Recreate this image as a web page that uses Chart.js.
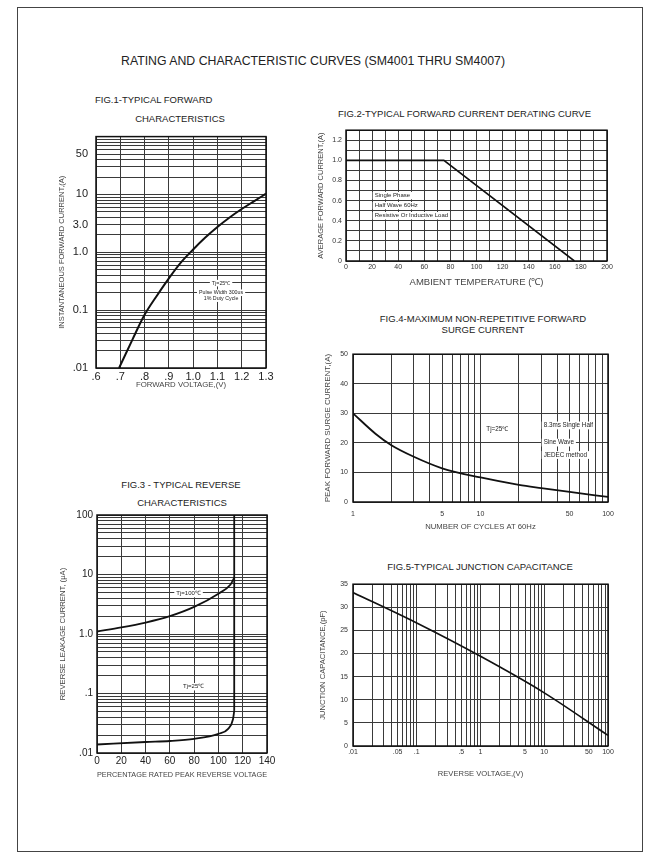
<!DOCTYPE html>
<html>
<head>
<meta charset="utf-8">
<title>SM4001 thru SM4007 rating and characteristic curves</title>
<script src="https://cdn.jsdelivr.net/npm/chart.js@4.4.1/dist/chart.umd.min.js"></script>
<style>
  html, body { margin: 0; padding: 0; background: #fff; }
  body { position: relative; width: 672px; height: 862px; overflow: hidden; font-family: 'Liberation Sans', Arial, sans-serif; color: #222; }
  .frame { position: absolute; left: 17px; top: 7px; width: 624px; height: 843px; border: 1.5px solid #444; }
  .txt { position: absolute; white-space: nowrap; line-height: 1; font-size: 9.5px; }
  .c { transform: translateX(-50%); }
  .box { position: absolute; }
</style>
</head>
<body>
<div class="frame"></div>
<div class="txt" style="left:121px;top:55px;font-size:12.3px">RATING AND CHARACTERISTIC CURVES (SM4001 THRU SM4007)</div>

<div class="txt" style="left:95px;top:95px">FIG.1-TYPICAL FORWARD</div>
<div class="txt c" style="left:180px;top:114px">CHARACTERISTICS</div>
<div class="txt" style="left:338px;top:108.5px">FIG.2-TYPICAL FORWARD CURRENT DERATING CURVE</div>
<div class="txt c" style="left:483px;top:313.5px">FIG.4-MAXIMUM NON-REPETITIVE FORWARD</div>
<div class="txt c" style="left:483px;top:324.5px">SURGE CURRENT</div>
<div class="txt c" style="left:181px;top:479.5px">FIG.3 - TYPICAL REVERSE</div>
<div class="txt c" style="left:182px;top:497.5px">CHARACTERISTICS</div>
<div class="txt c" style="left:480px;top:562px">FIG.5-TYPICAL JUNCTION CAPACITANCE</div>

<div class="box" style="left:50px;top:122px;width:230px;height:272px"><canvas id="fig1"></canvas></div>
<div class="box" style="left:310px;top:122px;width:311px;height:169px"><canvas id="fig2"></canvas></div>
<div class="box" style="left:316px;top:345px;width:306px;height:189px"><canvas id="fig4"></canvas></div>
<div class="box" style="left:50px;top:505px;width:231px;height:278px"><canvas id="fig3"></canvas></div>
<div class="box" style="left:312px;top:575px;width:310px;height:205px"><canvas id="fig5"></canvas></div>

<script>
// FIG.1 forward characteristics
const fwdVolt = [0.695, 0.75, 0.8, 0.85, 0.9, 0.95, 1.0, 1.05, 1.1, 1.15, 1.2, 1.25, 1.3];
const fwdAmps = [0.01, 0.031, 0.083, 0.176, 0.355, 0.67, 1.12, 1.8, 2.74, 4.0, 5.6, 7.6, 10.3];
const fig1XTickVals = [0.6, 0.7, 0.8, 0.9, 1.0, 1.1, 1.2, 1.3];
const fig1XTickText = ['.6', '.7', '.8', '.9', '1.0', '1.1', '1.2', '1.3'];
const fig1YTickVals = [0.01, 0.1, 1, 3, 10, 50];
const fig1YTickText = ['.01', '0.1', '1.0', '3.0', '10', '50'];

// FIG.2 derating curve
const ambientC = [0, 75, 175];
const avgAmps = [1.0, 1.0, 0];
const fig2XTickVals = [0, 20, 40, 60, 80, 100, 120, 140, 160, 180, 200];
const fig2XTickText = ['0', '20', '40', '60', '80', '100', '120', '140', '160', '180', '200'];
const fig2YTickVals = [0, 0.2, 0.4, 0.6, 0.8, 1.0, 1.2];
const fig2YTickText = ['0', '0.2', '0.4', '0.6', '0.8', '1.0', '1.2'];

// FIG.4 surge current
const cycles = [1, 1.5, 2, 3, 5, 10, 20, 30, 50, 100];
const surgeAmps = [30, 23.1, 19.2, 15.3, 11.4, 8.3, 5.8, 4.7, 3.4, 1.7];
const fig4XTickVals = [1, 5, 10, 50, 100];
const fig4XTickText = ['1', '5', '10', '50', '100'];
const fig4YTickVals = [0, 10, 20, 30, 40, 50];
const fig4YTickText = ['0', '10', '20', '30', '40', '50'];

// FIG.3 reverse characteristics
const pct100 = [0, 20, 40, 60, 80, 100, 110, 113];
const leak100 = [1.1, 1.29, 1.56, 2.0, 2.86, 4.76, 6.8, 8.8];
const pct25 = [0, 40, 60, 80, 100, 108, 112, 113];
const leak25 = [0.0139, 0.0153, 0.0159, 0.0173, 0.021, 0.0254, 0.037, 0.051];
const kneePct = [113, 113];
const kneeLeak = [0.051, 100];
const fig3XTickVals = [0, 20, 40, 60, 80, 100, 120, 140];
const fig3XTickText = ['0', '20', '40', '60', '80', '100', '120', '140'];
const fig3YTickVals = [0.01, 0.1, 1, 10, 100];
const fig3YTickText = ['.01', '.1', '1.0', '10', '100'];

// FIG.5 junction capacitance
const revVolt = [0.01, 0.1, 1, 10, 100];
const capPf = [33.2, 26.6, 19.4, 11.5, 2.3];
const fig5XTickVals = [0.01, 0.05, 0.1, 0.5, 1, 5, 10, 50, 100];
const fig5XTickText = ['.01', '.05', '.1', '.5', '1', '5', '10', '50', '100'];
const fig5YTickVals = [0, 5, 10, 15, 20, 25, 30, 35];
const fig5YTickText = ['0', '5', '10', '15', '20', '25', '30', '35'];

const FONT = "'Liberation Sans', Arial, sans-serif";
Chart.defaults.font.family = FONT;

function logGrid(lo, hi) {
  const out = [];
  for (let e = lo; e < hi; e++) {
    for (let m = 1; m < 10; m++) out.push(parseFloat((m * Math.pow(10, e)).toPrecision(6)));
  }
  out.push(Math.pow(10, hi));
  return out;
}
function stepGrid(lo, hi, step) {
  const out = [];
  for (let v = lo; v <= hi + step / 2; v += step) out.push(parseFloat(v.toFixed(6)));
  return out;
}
function labelAt(v, vals, text) {
  const i = vals.findIndex(t => Math.abs(t - v) <= Math.abs(t) * 1e-6 + 1e-9);
  return i < 0 ? '' : text[i];
}
function pts(xs, ys) { return xs.map((x, i) => ({ x: x, y: ys[i] })); }

function axis(o) {
  const left = o.pos === 'left';
  return {
    type: o.type, position: o.pos, min: o.min, max: o.max,
    afterBuildTicks: s => { s.ticks = o.grid.map(v => ({ value: v })); },
    afterFit: s => { if (left) s.width = o.size; else s.height = o.size; },
    grid: { color: '#3a3a3a', lineWidth: 1, drawTicks: false },
    border: { display: false },
    ticks: {
      autoSkip: false, maxRotation: 0, minRotation: 0, padding: o.tickPad,
      color: o.tickColor || '#222', font: { size: o.tickSize },
      callback: v => labelAt(v, o.vals, o.text)
    },
    title: {
      display: true, text: o.title, color: '#444', font: { size: o.titleSize },
      padding: left ? { top: o.titlePad, bottom: 0 } : { top: 0, bottom: o.titlePad }
    }
  };
}

// white-backed notes placed in data coordinates, plus the plot frame
function extras(notes, size) {
  return {
    id: 'extras',
    beforeDatasetsDraw(chart) {
      const ctx = chart.ctx, xs = chart.scales.x, ys = chart.scales.y;
      ctx.save();
      ctx.font = size + 'px ' + FONT;
      ctx.textBaseline = 'middle';
      ctx.textAlign = 'left';
      notes.forEach(n => {
        const w = ctx.measureText(n.text).width;
        const px = xs.getPixelForValue(n.x), py = ys.getPixelForValue(n.y);
        const l = n.align === 'center' ? px - w / 2 : px;
        ctx.fillStyle = '#fff';
        ctx.fillRect(l - 2, py - size * 0.62, w + 4, size * 1.24);
        ctx.fillStyle = '#222';
        ctx.fillText(n.text, l, py);
      });
      ctx.restore();
    },
    afterDatasetsDraw(chart) {
      const a = chart.chartArea, ctx = chart.ctx;
      ctx.save();
      ctx.strokeStyle = '#111';
      ctx.lineWidth = 1.5;
      ctx.strokeRect(a.left, a.top, a.right - a.left, a.bottom - a.top);
      ctx.restore();
    }
  };
}

function line(data, width, smooth) {
  return {
    data: data, borderColor: '#111', borderWidth: width, pointRadius: 0, fill: false,
    tension: 0, cubicInterpolationMode: smooth ? 'monotone' : 'default'
  };
}

function makeChart(id, datasets, xAxis, yAxis, notes, noteSize) {
  return new Chart(document.getElementById(id), {
    type: 'line',
    data: { datasets: datasets },
    options: {
      responsive: true, maintainAspectRatio: false, animation: false, events: [],
      layout: { padding: { top: 8, right: 14, left: 0, bottom: 0 } },
      plugins: { legend: { display: false }, tooltip: { enabled: false } },
      scales: { x: axis(xAxis), y: axis(yAxis) }
    },
    plugins: [extras(notes, noteSize)]
  });
}

makeChart('fig1',
  [line(pts(fwdVolt, fwdAmps), 2, true)],
  { type: 'linear', pos: 'bottom', min: 0.6, max: 1.3, grid: stepGrid(0.6, 1.3, 0.1), vals: fig1XTickVals, text: fig1XTickText,
    size: 26, tickPad: 2, tickSize: 11, title: 'FORWARD VOLTAGE,(V)', titleSize: 7.8, titlePad: 4.3 },
  { type: 'logarithmic', pos: 'left', min: 0.01, max: 100, grid: logGrid(-2, 2), vals: fig1YTickVals, text: fig1YTickText,
    size: 46, tickPad: 8, tickSize: 11, title: 'INSTANTANEOUS FORWARD CURRENT,(A)', titleSize: 7.5, titlePad: 7.5 },
  [{ x: 1.115, y: 0.293, text: 'Tj=25\u2103', align: 'center' },
   { x: 1.115, y: 0.2, text: 'Pulse Width 300us', align: 'center' },
   { x: 1.115, y: 0.158, text: '1% Duty Cycle', align: 'center' }], 5.3);

makeChart('fig2',
  [line(pts(ambientC, avgAmps), 1.6, false)],
  { type: 'linear', pos: 'bottom', min: 0, max: 200, grid: stepGrid(0, 200, 10), vals: fig2XTickVals, text: fig2XTickText,
    size: 30, tickPad: 2, tickSize: 7, tickColor: '#333', title: 'AMBIENT TEMPERATURE (\u2103)', titleSize: 9.5, titlePad: 2.6 },
  { type: 'linear', pos: 'left', min: 0, max: 1.3, grid: stepGrid(0, 1.3, 0.1), vals: fig2YTickVals, text: fig2YTickText,
    size: 36, tickPad: 4, tickSize: 7, tickColor: '#333', title: 'AVERAGE FORWARD CURRENT,(A)', titleSize: 7.5, titlePad: 6.5 },
  [{ x: 22, y: 0.65, text: 'Single Phase', align: 'left' },
   { x: 22, y: 0.55, text: 'Half Wave 60Hz', align: 'left' },
   { x: 22, y: 0.45, text: 'Resistive Or Inductive Load', align: 'left' }], 6);

makeChart('fig4',
  [line(pts(cycles, surgeAmps), 1.8, true)],
  { type: 'logarithmic', pos: 'bottom', min: 1, max: 100, grid: logGrid(0, 2), vals: fig4XTickVals, text: fig4XTickText,
    size: 32, tickPad: 8, tickSize: 7, tickColor: '#333', title: 'NUMBER OF CYCLES AT 60Hz', titleSize: 7.7, titlePad: 2.7 },
  { type: 'linear', pos: 'left', min: 0, max: 50, grid: stepGrid(0, 50, 10), vals: fig4YTickVals, text: fig4YTickText,
    size: 37, tickPad: 5, tickSize: 7, tickColor: '#333', title: 'PEAK FORWARD SURGE CURRENT,(A)', titleSize: 8, titlePad: 6.9 },
  [{ x: 11.1, y: 24.6, text: 'Tj=25\u2103', align: 'left' },
   { x: 31.3, y: 25.9, text: '8.3ms Single Half', align: 'left' },
   { x: 31.3, y: 20.1, text: 'Sine Wave', align: 'left' },
   { x: 31.3, y: 15.9, text: 'JEDEC method', align: 'left' }], 6.3);

makeChart('fig3',
  [line(pts(pct100, leak100), 1.8, true), line(pts(pct25, leak25), 1.8, true), line(pts(kneePct, kneeLeak), 1.8, false)],
  { type: 'linear', pos: 'bottom', min: 0, max: 140, grid: stepGrid(0, 140, 20), vals: fig3XTickVals, text: fig3XTickText,
    size: 30, tickPad: 2, tickSize: 10, title: 'PERCENTAGE RATED PEAK REVERSE VOLTAGE', titleSize: 7.4, titlePad: 3.5 },
  { type: 'logarithmic', pos: 'left', min: 0.01, max: 100, grid: logGrid(-2, 2), vals: fig3YTickVals, text: fig3YTickText,
    size: 47, tickPad: 4, tickSize: 10, title: 'REVERSE LEAKAGE CURRENT, (\u03bcA)', titleSize: 7.7, titlePad: 8.7 },
  [{ x: 75.4, y: 4.78, text: 'Tj=100\u2103', align: 'center' },
   { x: 79.6, y: 0.13, text: 'Tj=25\u2103', align: 'center' }], 6);

makeChart('fig5',
  [line(pts(revVolt, capPf), 1.6, true)],
  { type: 'logarithmic', pos: 'bottom', min: 0.01, max: 100, grid: logGrid(-2, 2), vals: fig5XTickVals, text: fig5XTickText,
    size: 34, tickPad: 2, tickSize: 7, tickColor: '#333', title: 'REVERSE VOLTAGE,(V)', titleSize: 7.6, titlePad: 1.5 },
  { type: 'linear', pos: 'left', min: 0, max: 35, grid: stepGrid(0, 35, 5), vals: fig5YTickVals, text: fig5YTickText,
    size: 41, tickPad: 5, tickSize: 7, tickColor: '#333', title: 'JUNCTION CAPACITANCE,(pF)', titleSize: 7.6, titlePad: 6.8 },
  [], 6);
</script>
</body>
</html>
